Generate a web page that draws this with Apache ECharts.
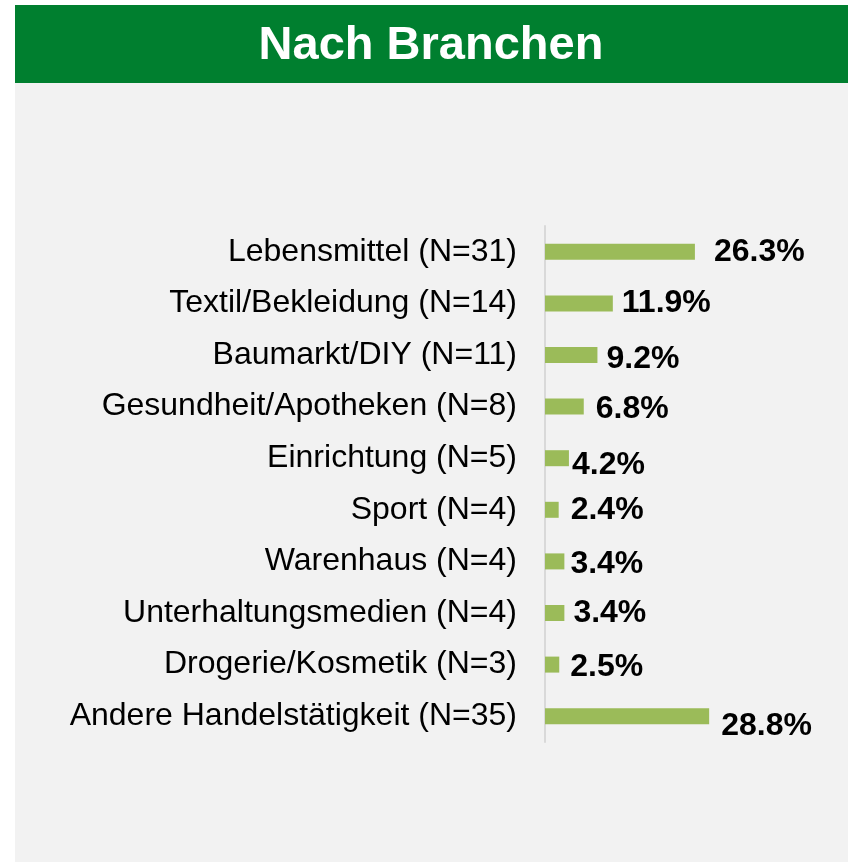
<!DOCTYPE html>
<html>
<head>
<meta charset="utf-8">
<script src="https://cdn.jsdelivr.net/npm/echarts@6/dist/echarts.min.js"></script>
<style>
  html, body { margin: 0; padding: 0; background: #fff; }
  #chart { width: 848px; height: 862px; }
</style>
</head>
<body>
<div id="chart"></div>
<script>
// Kategorien (von oben nach unten) und Anteile in %
var categories = [
  'Lebensmittel (N=31)',
  'Textil/Bekleidung (N=14)',
  'Baumarkt/DIY (N=11)',
  'Gesundheit/Apotheken (N=8)',
  'Einrichtung (N=5)',
  'Sport (N=4)',
  'Warenhaus (N=4)',
  'Unterhaltungsmedien (N=4)',
  'Drogerie/Kosmetik (N=3)',
  'Andere Handelstätigkeit (N=35)'
];
var shares = [26.3, 11.9, 9.2, 6.8, 4.2, 2.4, 3.4, 3.4, 2.5, 28.8];

// Label-Verschiebung [dx, dy] wie im Original (Excel-Labels sitzen leicht versetzt)
var labelNudge = [[19, 0], [9, 0], [9, 4], [12, 3], [3, 7], [12, 0], [6, 3], [9, 0], [11, 3], [12, 10]];

var chart = echarts.init(document.getElementById('chart'));

chart.setOption({
  backgroundColor: '#ffffff',
  animation: false,
  graphic: [
    {
      type: 'rect',
      shape: { x: 15, y: 83, width: 833, height: 779 },
      style: { fill: '#f2f2f2' },
      z: -10
    },
    {
      type: 'rect',
      shape: { x: 15, y: 5, width: 833, height: 78 },
      style: { fill: '#007f2f' },
      z: -10
    },
    {
      type: 'text',
      x: 431,
      y: 46,
      style: {
        text: 'Nach Branchen',
        fill: '#ffffff',
        font: 'bold 47px "Liberation Sans", Arial, sans-serif',
        align: 'center',
        verticalAlign: 'middle'
      }
    }
  ],
  grid: {
    left: 545,
    right: 132,
    top: 226,
    bottom: 120
  },
  xAxis: {
    type: 'value',
    min: 0,
    max: 30,
    show: false
  },
  yAxis: {
    type: 'category',
    data: categories,
    inverse: true,
    axisLine: { show: true, lineStyle: { color: '#d9d9d9', width: 2 } },
    axisTick: { show: false },
    axisLabel: {
      margin: 28,
      color: '#000',
      fontSize: 32,
      fontFamily: '"Liberation Sans", Arial, sans-serif'
    }
  },
  series: [
    {
      type: 'bar',
      barWidth: 16,
      data: shares.map(function (v, i) {
        return {
          value: v,
          label: { offset: labelNudge[i] }
        };
      }),
      itemStyle: { color: '#9bbb59' },
      label: {
        show: true,
        position: 'right',
        distance: 0,
        color: '#000',
        fontSize: 32,
        fontWeight: 'bold',
        fontFamily: '"Liberation Sans", Arial, sans-serif',
        formatter: function (p) { return p.value.toFixed(1) + '%'; }
      }
    }
  ]
});
</script>
</body>
</html>
